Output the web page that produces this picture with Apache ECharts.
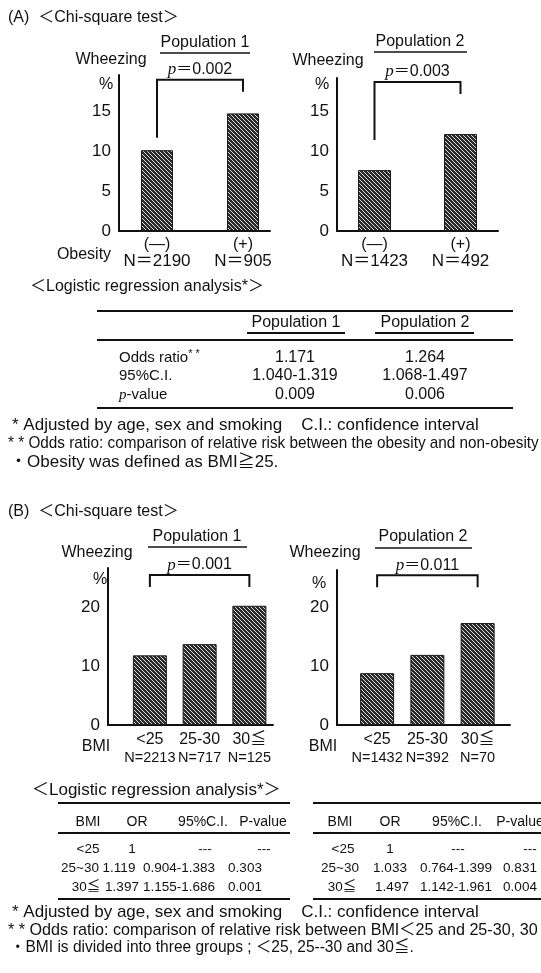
<!DOCTYPE html>
<html>
<head>
<meta charset="utf-8">
<script src="https://cdn.jsdelivr.net/npm/echarts@6/dist/echarts.min.js"></script>
<style>
  html, body { margin: 0; padding: 0; background: #fff; }
  #chart { width: 541px; height: 973px; }
</style>
</head>
<body>
<div id="chart"></div>
<script>
// ---- (A) wheezing prevalence by obesity ----
const obesityGroups = ['(—)', '(+)'];
const obesityNPop1 = [2190, 905];
const obesityNPop2 = [1423, 492];
const wheezeObesityPop1 = [10.1, 14.7];
const wheezeObesityPop2 = [7.6, 12.1];
const pObesity = ['0.002', '0.003'];

// ---- (B) wheezing prevalence by BMI group ----
const bmiGroups = ['<25', '25-30', '30≦'];
const bmiNPop1 = [2213, 717, 125];
const bmiNPop2 = [1432, 392, 70];
const wheezeBmiPop1 = [11.8, 13.7, 20.2];
const wheezeBmiPop2 = [8.8, 11.9, 17.3];
const pBmi = ['0.001', '0.011'];

// ---- axis tick steps ----
const tickStepA = 5;   // 0, 5, 10, 15
const tickStepB = 10;  // 0, 10, 20

// ---- (A) logistic regression ----
const logitAColumns = ['Population 1', 'Population 2'];
const logitAOddsRatio = ['1.171', '1.264'];
const logitACI = ['1.040-1.319', '1.068-1.497'];
const logitAP = ['0.009', '0.006'];

// ---- (B) logistic regression ----
const logitBColumns = ['BMI', 'OR', '95%C.I.', 'P-value'];
const logitBGroups = ['<25', '25~30', '30≦'];
const logitBOrPop1 = ['1', '1.119', '1.397'];
const logitBCIPop1 = ['---', '0.904-1.383', '1.155-1.686'];
const logitBPPop1 = ['---', '0.303', '0.001'];
const logitBOrPop2 = ['1', '1.033', '1.497'];
const logitBCIPop2 = ['---', '0.764-1.399', '1.142-1.961'];
const logitBPPop2 = ['---', '0.831', '0.004'];

const FONT = '"Liberation Sans", Arial, "Noto Sans CJK JP", sans-serif';
const INK = '#111';

// dense diagonal hatching used for every bar
function hatchPattern() {
  const c = document.createElement('canvas');
  c.width = 4; c.height = 4;
  const g = c.getContext('2d');
  g.fillStyle = '#2b2b2b';
  g.fillRect(0, 0, 4, 4);
  g.fillStyle = '#d8d8d8';
  for (let i = 0; i < 4; i++) g.fillRect(i, i, 1, 1);
  return c;
}
const hatch = { image: hatchPattern(), repeat: 'repeat' };

// layout of the four bar panels
const panels = [
  { frame: { left: 119, top: 75, width: 151, height: 156 }, bars: { left: 114, width: 172 },
    max: 19.5, step: tickStepA, cats: obesityGroups, n: obesityNPop1, values: wheezeObesityPop1,
    p: pObesity[0], bracketTop: 18.9, legs: [58, 12], barWidth: 32, catMargin: 5, catLine: 17, eq: '＝', catSize: 16, nSize: 17 },
  { frame: { left: 337, top: 78, width: 161, height: 153 }, bars: { left: 331.5, width: 172 },
    max: 19.1, step: tickStepA, cats: obesityGroups, n: obesityNPop2, values: wheezeObesityPop2,
    p: pObesity[1], bracketTop: 18.6, legs: [58, 12], barWidth: 33, catMargin: 5, catLine: 17, eq: '＝', catSize: 16, nSize: 17 },
  { frame: { left: 108, top: 568, width: 165, height: 157 }, bars: { left: 125, width: 149.25 },
    max: 26.6, step: tickStepB, cats: bmiGroups, n: bmiNPop1, values: wheezeBmiPop1,
    p: pBmi[0], bracketTop: 25.4, legs: [12, 12], barWidth: 34, catMargin: 6, catLine: 18, eq: '=', catSize: 16, nSize: 14.5 },
  { frame: { left: 337, top: 570, width: 173, height: 155 }, bars: { left: 352, width: 150.75 },
    max: 26.3, step: tickStepB, cats: bmiGroups, n: bmiNPop2, values: wheezeBmiPop2,
    p: pBmi[1], bracketTop: 25.4, legs: [12, 12], barWidth: 34, catMargin: 6, catLine: 18, eq: '=', catSize: 16, nSize: 14.5 }
];

const grid = [], xAxis = [], yAxis = [], series = [];
panels.forEach((pn, k) => {
  const fi = 2 * k, bi = 2 * k + 1;
  grid.push({ left: pn.frame.left, top: pn.frame.top, width: pn.frame.width, height: pn.frame.height, containLabel: false, outerBoundsMode: 'none' });
  grid.push({ left: pn.bars.left, top: pn.frame.top, width: pn.bars.width, height: pn.frame.height, containLabel: false, outerBoundsMode: 'none' });
  // frame axes: the two solid axis lines and the percentage ticks
  xAxis.push({ gridIndex: fi, type: 'value', min: 0, max: 1,
    axisLine: { show: true, onZero: false, lineStyle: { color: INK, width: 2 } },
    axisTick: { show: false }, axisLabel: { show: false }, splitLine: { show: false } });
  yAxis.push({ gridIndex: fi, type: 'value', min: 0, max: pn.max, interval: pn.step,
    axisLine: { show: true, lineStyle: { color: INK, width: 2 } },
    axisTick: { show: false }, splitLine: { show: false },
    axisLabel: { color: INK, fontFamily: FONT, fontSize: 17, margin: 8, showMaxLabel: false,
      formatter: v => (v % pn.step === 0 ? String(v) : '') } });
  // bar axes: categories with their sample sizes
  xAxis.push({ gridIndex: bi, type: 'category', data: pn.cats,
    axisLine: { show: false }, axisTick: { show: false }, splitLine: { show: false },
    axisLabel: { interval: 0, margin: pn.catMargin, color: INK, fontFamily: FONT,
      formatter: (v, i) => `{c|${v}}\n{n|N${pn.eq}${pn.n[i]}}`,
      rich: { c: { fontSize: pn.catSize, lineHeight: pn.catLine, fontFamily: FONT, color: INK },
              n: { fontSize: pn.nSize, lineHeight: pn.catLine, fontFamily: FONT, color: INK } } } });
  yAxis.push({ gridIndex: bi, type: 'value', min: 0, max: pn.max, show: false });

  series.push({ type: 'bar', xAxisIndex: bi, yAxisIndex: bi, data: pn.values, barWidth: pn.barWidth,
    silent: true, itemStyle: { color: hatch, borderColor: '#1a1a1a', borderWidth: 1 } });

  // significance bracket from the first to the last group, with its p-value
  series.push({ type: 'custom', xAxisIndex: bi, yAxisIndex: bi, silent: true,
    data: [[0, pn.cats.length - 1, pn.bracketTop]],
    renderItem: (params, api) => {
      const a = api.coord([api.value(0), api.value(2)]);
      const b = api.coord([api.value(1), api.value(2)]);
      return { type: 'group', children: [
        { type: 'polyline', shape: { points: [[a[0], a[1] + pn.legs[0]], a, b, [b[0], b[1] + pn.legs[1]]] },
          style: { stroke: INK, lineWidth: 2, fill: null } },
        { type: 'text', x: (a[0] + b[0]) / 2, y: a[1] - 10,
          style: { text: `{i|p}{t|＝${pn.p}}`, align: 'center', verticalAlign: 'middle',
            rich: { i: { fontFamily: 'Liberation Serif, serif', fontStyle: 'italic', fontSize: 17, fill: INK },
                    t: { fontFamily: FONT, fontSize: 16, fill: INK } } } }
      ] };
    } });
});

// ---- static text and table rules ----
const g = [];
function txt(text, x, y, size, align, extra) {
  g.push(Object.assign({ type: 'text', x, y, silent: true,
    style: { text, font: `${size}px ${FONT}`, fill: INK, align: align || 'left', verticalAlign: 'middle' } }, extra || {}));
}
function rule(x1, y1, x2, y2, w) {
  g.push({ type: 'line', silent: true, shape: { x1, y1, x2, y2 }, style: { stroke: INK, lineWidth: w || 1.5 } });
}

// panel headings
txt('(A)  ＜Chi-square test＞', 8, 18, 16);
txt('(B)  ＜Chi-square test＞', 8, 512, 16);

// population titles above each chart, underlined
[[205, 43, 53, 160, 250, 'Population 1'], [420, 42, 52, 374, 467, 'Population 2'],
 [197, 537, 547, 148, 247, 'Population 1'], [423, 537, 548, 375, 472, 'Population 2']]
  .forEach(([cx, ty, uy, x1, x2, t]) => { txt(t, cx, ty, 16, 'center'); rule(x1, uy, x2, uy, 1.5); });

// y-axis titles
[[111, 60, 106, 85], [328, 61, 322, 85], [97, 553, 100, 580], [325, 553, 319, 584]]
  .forEach(([wx, wy, px, py]) => { txt('Wheezing', wx, wy, 16, 'center'); txt('%', px, py, 16, 'center'); });

// x-axis titles
txt('Obesity', 84, 255, 16, 'center');
txt('BMI', 96, 747, 16, 'center');
txt('BMI', 323, 747, 16, 'center');

// (A) logistic regression table
txt('＜Logistic regression analysis*＞', 30, 287, 16);
rule(97, 311, 513, 311, 2);
rule(247, 333, 345, 333, 2);
rule(375, 333, 474, 333, 2);
rule(97, 340, 513, 340, 2);
rule(97, 408, 513, 408, 2);
txt(logitAColumns[0], 296, 323, 16, 'center');
txt(logitAColumns[1], 425, 323, 16, 'center');
g.push({ type: 'text', x: 119, y: 358, silent: true, style: { text: '{a|Odds ratio}{s|* *}', verticalAlign: 'middle',
  rich: { a: { font: `15px ${FONT}`, fill: INK }, s: { font: `11px ${FONT}`, fill: INK, verticalAlign: 'top', padding: [0, 0, 8, 0] } } } });
txt('95%C.I.', 119, 376, 15);
g.push({ type: 'text', x: 119, y: 395, silent: true, style: { text: '{i|p}{a|-value}', verticalAlign: 'middle',
  rich: { i: { font: `italic 15px "Liberation Serif", serif`, fill: INK }, a: { font: `15px ${FONT}`, fill: INK } } } });
[logitAOddsRatio, logitACI, logitAP].forEach((row, r) => {
  const y = [358, 376, 395][r];
  txt(row[0], 295, y, 16, 'center');
  txt(row[1], 425, y, 16, 'center');
});

// (A) footnotes
txt('* Adjusted by age, sex and smoking    C.I.: confidence interval', 12, 425, 17);
txt('* * Odds ratio: comparison of relative risk between the obesity and non-obesity', 8, 443, 17, 'left', { scaleX: 0.9 });
txt('・Obesity was defined as BMI≧25.', 10, 462, 17);

// (B) logistic regression tables
txt('＜Logistic regression analysis*＞', 32, 790, 17);
function bmiTable(x1, x2, headX, cellX, orv, civ, pv) {
  rule(x1, 803, x2, 803, 2);
  rule(x1, 833, x2, 833, 2);
  rule(x1, 899, x2, 899, 2);
  logitBColumns.forEach((h, i) => txt(h, headX[i], 822, 14, 'center'));
  const rows = [849, 868, 887];
  logitBGroups.forEach((grp, r) => {
    const cx = cellX[r];
    txt(grp, cx[0], rows[r], 13.5, 'center');
    txt(orv[r], cx[1], rows[r], 13.5, 'center');
    txt(civ[r], cx[2], rows[r], 13.5, 'center');
    txt(pv[r], cx[3], rows[r], 13.5, 'center');
  });
}
bmiTable(58, 290, [88, 137, 203, 263],
  [[88, 132, 205, 264], [80, 119, 179, 245], [86, 122, 179, 245]],
  logitBOrPop1, logitBCIPop1, logitBPPop1);
bmiTable(313, 541, [340, 390, 457, 520],
  [[343, 390, 458, 530], [340, 390, 456, 520], [342, 392, 456, 520]],
  logitBOrPop2, logitBCIPop2, logitBPPop2);

// (B) footnotes
txt('* Adjusted by age, sex and smoking    C.I.: confidence interval', 12, 912, 17);
txt('* * Odds ratio: comparison of relative risk between BMI＜25 and 25-30, 30', 8, 930, 17, 'left', { scaleX: 0.95 });
txt('・BMI is divided into three groups ; ＜25, 25--30 and 30≦.', 10, 948, 16, 'left', { scaleX: 0.97 });

const chart = echarts.init(document.getElementById('chart'), null, { renderer: 'canvas' });
chart.setOption({
  animation: false,
  backgroundColor: '#fff',
  textStyle: { fontFamily: FONT },
  grid, xAxis, yAxis, series,
  graphic: { elements: g }
});
</script>
</body>
</html>
